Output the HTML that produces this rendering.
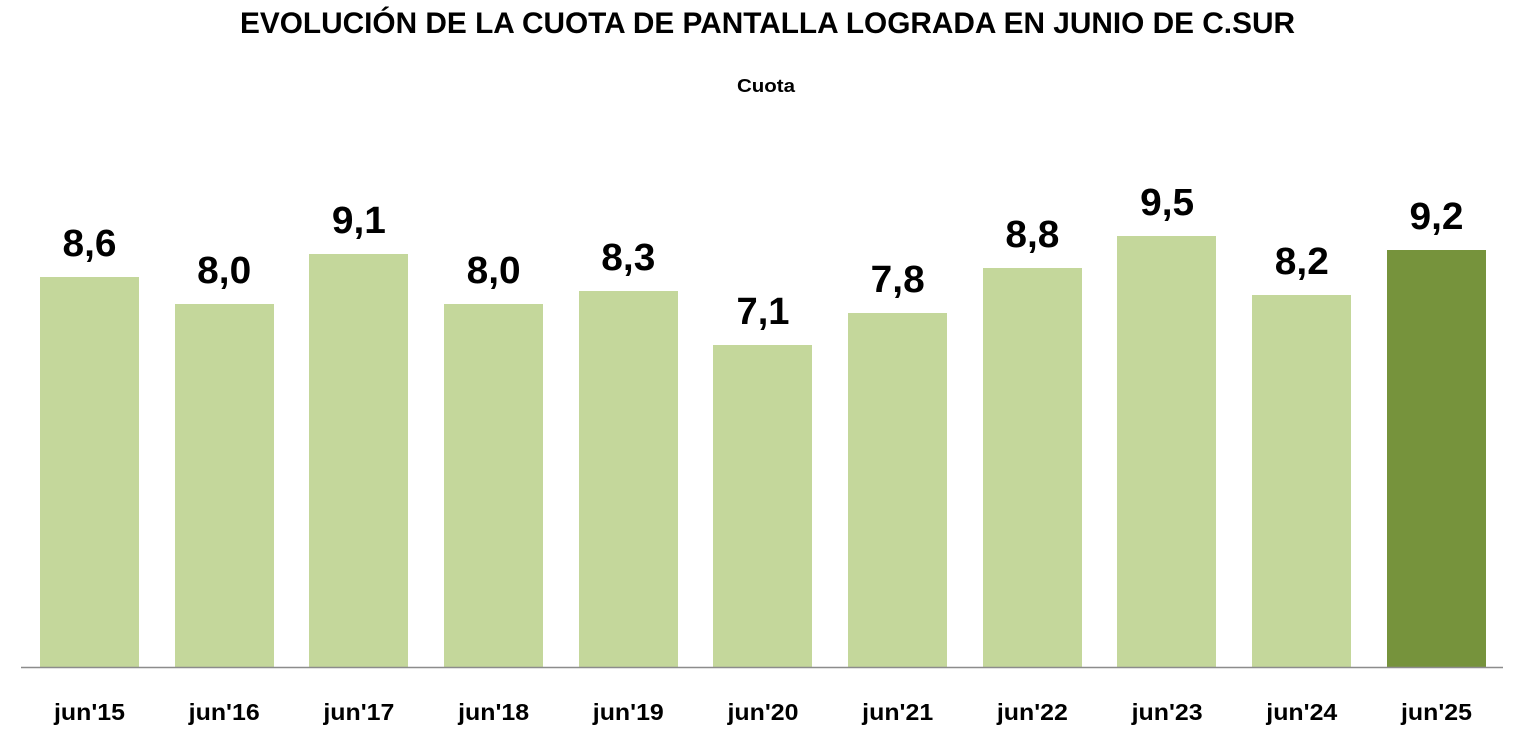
<!DOCTYPE html>
<html>
<head>
<meta charset="utf-8">
<style>
html,body{margin:0;padding:0;background:#fff;}
svg{display:block;}
text{font-family:"Liberation Sans",Arial,sans-serif;font-weight:bold;fill:#000;}
</style>
</head>
<body>
<svg width="1533" height="753" viewBox="0 0 1533 753" xmlns="http://www.w3.org/2000/svg">
<rect x="0" y="0" width="1533" height="753" fill="#fff"/>
<text x="767.5" y="33" font-size="30" text-anchor="middle" textLength="1055" lengthAdjust="spacingAndGlyphs">EVOLUCIÓN DE LA CUOTA DE PANTALLA LOGRADA EN JUNIO DE C.SUR</text>
<text x="766" y="92" font-size="18" text-anchor="middle" textLength="58" lengthAdjust="spacingAndGlyphs">Cuota</text>

<g fill="#C4D79B">
<rect x="40" y="277" width="99" height="390"/>
<rect x="175" y="304" width="99" height="363"/>
<rect x="309" y="254" width="99" height="413"/>
<rect x="444" y="304" width="99" height="363"/>
<rect x="579" y="291" width="99" height="376"/>
<rect x="713" y="345" width="99" height="322"/>
<rect x="848" y="313" width="99" height="354"/>
<rect x="983" y="268" width="99" height="399"/>
<rect x="1117" y="236" width="99" height="431"/>
<rect x="1252" y="295" width="99" height="372"/>
</g>
<rect x="1387" y="250" width="99" height="417" fill="#76933C"/>

<line x1="21" y1="667.5" x2="1503" y2="667.5" stroke="#8c8c8c" stroke-width="1.5"/>

<g font-size="38" text-anchor="middle">
<text x="89.5" y="256" textLength="54" lengthAdjust="spacingAndGlyphs">8,6</text>
<text x="224.2" y="283" textLength="54" lengthAdjust="spacingAndGlyphs">8,0</text>
<text x="358.9" y="233" textLength="54" lengthAdjust="spacingAndGlyphs">9,1</text>
<text x="493.6" y="283" textLength="54" lengthAdjust="spacingAndGlyphs">8,0</text>
<text x="628.3" y="270" textLength="54" lengthAdjust="spacingAndGlyphs">8,3</text>
<text x="763" y="324" textLength="53" lengthAdjust="spacingAndGlyphs">7,1</text>
<text x="897.7" y="292" textLength="54" lengthAdjust="spacingAndGlyphs">7,8</text>
<text x="1032.4" y="247" textLength="54" lengthAdjust="spacingAndGlyphs">8,8</text>
<text x="1167.1" y="215" textLength="54" lengthAdjust="spacingAndGlyphs">9,5</text>
<text x="1301.8" y="274" textLength="54" lengthAdjust="spacingAndGlyphs">8,2</text>
<text x="1436.5" y="229" textLength="54" lengthAdjust="spacingAndGlyphs">9,2</text>
</g>

<g font-size="23" text-anchor="middle">
<text x="89.5" y="720" textLength="71" lengthAdjust="spacingAndGlyphs">jun'15</text>
<text x="224.2" y="720" textLength="71" lengthAdjust="spacingAndGlyphs">jun'16</text>
<text x="358.9" y="720" textLength="71" lengthAdjust="spacingAndGlyphs">jun'17</text>
<text x="493.6" y="720" textLength="71" lengthAdjust="spacingAndGlyphs">jun'18</text>
<text x="628.3" y="720" textLength="71" lengthAdjust="spacingAndGlyphs">jun'19</text>
<text x="763" y="720" textLength="71" lengthAdjust="spacingAndGlyphs">jun'20</text>
<text x="897.7" y="720" textLength="71" lengthAdjust="spacingAndGlyphs">jun'21</text>
<text x="1032.4" y="720" textLength="71" lengthAdjust="spacingAndGlyphs">jun'22</text>
<text x="1167.1" y="720" textLength="71" lengthAdjust="spacingAndGlyphs">jun'23</text>
<text x="1301.8" y="720" textLength="71" lengthAdjust="spacingAndGlyphs">jun'24</text>
<text x="1436.5" y="720" textLength="71" lengthAdjust="spacingAndGlyphs">jun'25</text>
</g>
</svg>
</body>
</html>
